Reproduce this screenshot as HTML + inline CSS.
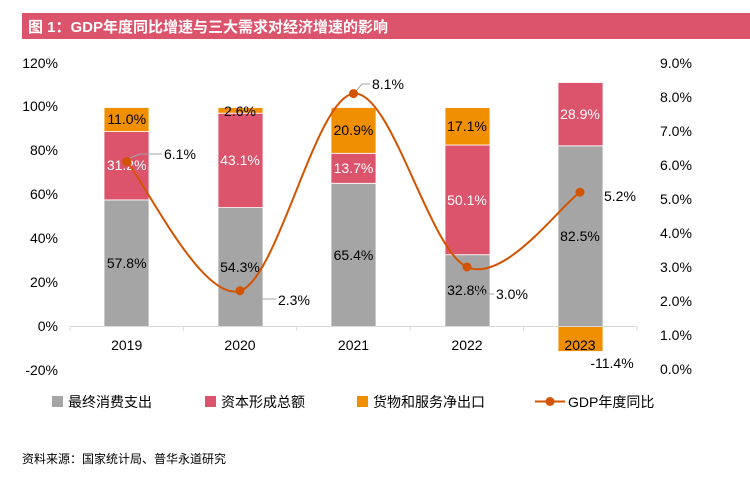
<!DOCTYPE html>
<html><head><meta charset="utf-8"><style>
body{margin:0;background:#fff;}
svg text{font-family:"Liberation Sans","Noto Sans CJK SC",sans-serif;}
</style></head><body>
<svg width="750" height="472" xmlns="http://www.w3.org/2000/svg">
<rect x="22" y="13" width="728" height="26" fill="#DC546C"/>
<text x="28" y="32" font-size="15" font-weight="bold" fill="#fff">图 1：GDP年度同比增速与三大需求对经济增速的影响</text>
<g font-size="14" fill="#000" text-anchor="end">
<text x="58" y="68">120%</text><text x="58" y="111">100%</text><text x="58" y="155">80%</text><text x="58" y="199">60%</text><text x="58" y="243">40%</text><text x="58" y="287">20%</text><text x="58" y="331">0%</text><text x="58" y="375">-20%</text>
</g>
<g font-size="14" fill="#000" text-anchor="start">
<text x="660" y="68">9.0%</text><text x="660" y="102">8.0%</text><text x="660" y="136">7.0%</text><text x="660" y="170">6.0%</text><text x="660" y="204">5.0%</text><text x="660" y="238">4.0%</text><text x="660" y="272">3.0%</text><text x="660" y="306">2.0%</text><text x="660" y="340">1.0%</text><text x="660" y="374">0.0%</text>
</g>
<g stroke="#fff" stroke-width="0.8">
<rect x="104" y="199.9" width="45" height="126.6" fill="#A5A5A5"/><rect x="104" y="131.6" width="45" height="68.3" fill="#DC546C"/><rect x="104" y="107.5" width="45" height="24.1" fill="#F08F00"/>
<rect x="218" y="207.6" width="45" height="118.9" fill="#A5A5A5"/><rect x="218" y="113.2" width="45" height="94.4" fill="#DC546C"/><rect x="218" y="107.5" width="45" height="5.7" fill="#F08F00"/>
<rect x="331" y="183.3" width="45" height="143.2" fill="#A5A5A5"/><rect x="331" y="153.3" width="45" height="30" fill="#DC546C"/><rect x="331" y="107.5" width="45" height="45.8" fill="#F08F00"/>
<rect x="445" y="254.7" width="45" height="71.8" fill="#A5A5A5"/><rect x="445" y="145" width="45" height="109.7" fill="#DC546C"/><rect x="445" y="107.6" width="45" height="37.4" fill="#F08F00"/>
<rect x="558" y="145.8" width="45" height="180.7" fill="#A5A5A5"/><rect x="558" y="82.5" width="45" height="63.3" fill="#DC546C"/><rect x="558" y="326.5" width="45" height="25" fill="#F08F00"/>
</g>
<g stroke="#D9D9D9" stroke-width="1">
<line x1="70" y1="326.5" x2="637" y2="326.5"/>
<line x1="70" y1="326.5" x2="70" y2="331"/><line x1="183.4" y1="326.5" x2="183.4" y2="331"/><line x1="296.8" y1="326.5" x2="296.8" y2="331"/><line x1="410.2" y1="326.5" x2="410.2" y2="331"/><line x1="523.6" y1="326.5" x2="523.6" y2="331"/><line x1="637" y1="326.5" x2="637" y2="331"/>
</g>
<g font-size="14" fill="#000" text-anchor="middle">
<text x="126.7" y="350">2019</text><text x="240" y="350">2020</text><text x="353.5" y="350">2021</text><text x="467" y="350">2022</text><text x="580" y="350">2023</text>
<text x="126.7" y="268">57.8%</text><text x="126.7" y="124">11.0%</text>
<text x="240" y="272">54.3%</text><text x="240" y="116">2.6%</text>
<text x="353.5" y="260">65.4%</text><text x="353.5" y="135">20.9%</text>
<text x="467" y="295">32.8%</text><text x="467" y="131">17.1%</text>
<text x="580" y="241">82.5%</text><text x="612" y="368">-11.4%</text>
</g>
<g font-size="14" fill="#fff" text-anchor="middle">
<text x="126.7" y="170">31.2%</text><text x="240" y="165">43.1%</text><text x="353.5" y="173">13.7%</text><text x="467" y="205">50.1%</text><text x="580" y="119">28.9%</text>
</g>
<g stroke="#A5A5A5" stroke-width="1" fill="none">
<polyline points="130,158 140,154 162,154"/>
<polyline points="244,294 254,299 276,299"/>
<polyline points="356,91 362,84 370,84"/>
<polyline points="471,270 480,294 494,294"/>
<polyline points="584,192 594,196 602,196"/>
</g>
<path d="M126.7,161.6 C145.6,183.1 202.2,302.1 240,290.8 C277.8,279.5 315.7,97.6 353.5,93.6 C391.3,89.6 429.2,250.6 467,267 C504.8,283.4 561.2,204.7 580,192.2" fill="none" stroke="#D35400" stroke-width="2"/>
<g fill="#D35400"><circle cx="126.7" cy="161.6" r="4.5"/><circle cx="240" cy="290.8" r="4.5"/><circle cx="353.5" cy="93.6" r="4.5"/><circle cx="467" cy="267" r="4.5"/><circle cx="580" cy="192.2" r="4.5"/></g>
<g font-size="14" fill="#000">
<text x="164" y="159">6.1%</text><text x="278" y="305">2.3%</text><text x="372" y="89">8.1%</text><text x="496" y="299">3.0%</text><text x="604" y="201">5.2%</text>
</g>
<g font-size="14" fill="#000">
<rect x="52" y="396" width="11" height="11" fill="#A5A5A5"/><text x="68" y="407">最终消费支出</text>
<rect x="205" y="396" width="11" height="11" fill="#DC546C"/><text x="221" y="407">资本形成总额</text>
<rect x="357" y="396" width="11" height="11" fill="#F08F00"/><text x="373" y="407">货物和服务净出口</text>
<line x1="535" y1="401.5" x2="565" y2="401.5" stroke="#D35400" stroke-width="2"/><circle cx="550" cy="401.5" r="4.5" fill="#D35400"/>
<text x="568" y="407">GDP年度同比</text>
</g>
<text x="22" y="463" font-size="12" fill="#000">资料来源：国家统计局、普华永道研究</text>
</svg>
</body></html>
